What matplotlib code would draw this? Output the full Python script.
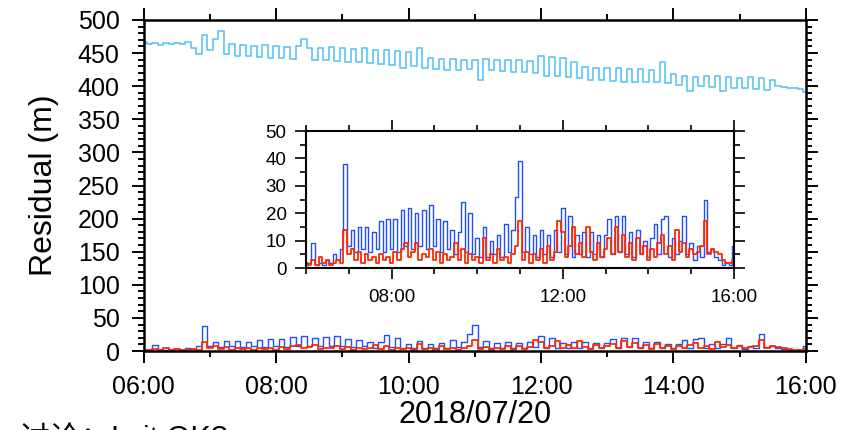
import numpy as np
import pandas as pd
import matplotlib
matplotlib.use('Agg')
from matplotlib import pyplot as plt
import matplotlib.dates as mdates
from matplotlib.ticker import MultipleLocator

plt.rcParams['font.family'] = ['Liberation Sans', 'Noto Sans CJK SC', 'DejaVu Sans']

# 5-minute samples, 2018/07/20 06:00 - 16:00
times = pd.date_range('2018-07-20 06:00', '2018-07-20 16:00', freq='5min')

# residual of the uncorrected solution (light blue, m)
res_raw = [467, 464, 466, 462, 465, 463, 466, 464, 467,
           458, 448, 478, 455, 472, 484,
           448, 463, 446, 462, 445, 461, 444, 462, 443, 460, 442, 459, 441, 460, 472, 458, 440, 458, 439, 459, 438,
           457, 437, 456, 436, 457, 435, 455, 434, 454, 432, 453, 428,
           451, 430, 458, 428, 442, 426, 441, 425, 441, 424, 440, 426,
           440, 410, 441, 424, 440, 423, 439, 422, 439, 421, 438, 420,
           445, 416, 444, 415, 443, 414, 437, 412, 429, 410, 428, 409,
           428, 408, 427, 407, 426, 406, 426, 407, 425, 406, 437, 405,
           418, 402, 416, 392, 414, 400, 416, 399, 415, 392, 414, 398,
           413, 397, 414, 396, 412, 395, 410, 400, 399, 398, 398, 396, 391]

# residual, blue series (m)
res_blue = [1, 2, 9, 1, 2, 1, 3, 2, 5, 3, 7, 38,
            8, 14, 6, 15, 7, 15, 6, 13, 7, 17, 6, 18,
            7, 18, 6, 21, 8, 22, 7, 20, 8, 21, 7, 23,
            8, 18, 6, 17, 7, 14, 5, 13, 24, 6, 20, 5,
            11, 4, 15, 4, 10, 5, 12, 4, 16, 6, 14, 26,
            39, 6, 15, 5, 12, 4, 14, 5, 12, 4, 14, 6,
            22, 5, 19, 4, 12, 5, 13, 4, 13, 5, 12, 4,
            12, 18, 5, 19, 6, 19, 5, 13, 4, 14, 5, 10,
            4, 11, 16, 5, 18, 19, 4, 11, 5, 10, 19, 5,
            9, 3, 8, 4, 25, 6, 7, 4, 3, 1, 2, 1, 8]

# residual, red series (m)
res_red = [2, 1, 3, 1, 4, 2, 3, 1, 2, 3, 2, 14,
           5, 7, 3, 6, 2, 5, 3, 4, 2, 5, 3, 4,
           2, 6, 3, 7, 9, 4, 6, 9, 3, 5, 4, 7,
           3, 6, 2, 5, 3, 4, 9, 3, 7, 2, 5, 3,
           4, 2, 11, 3, 5, 2, 7, 3, 4, 2, 5, 8,
           17, 3, 6, 2, 5, 3, 7, 2, 8, 3, 6, 17,
           13, 4, 8, 15, 5, 9, 4, 15, 6, 3, 9, 4,
           7, 11, 5, 15, 6, 12, 4, 9, 3, 11, 5, 8,
           3, 7, 4, 9, 12, 5, 8, 3, 14, 6, 9, 4,
           7, 5, 6, 8, 17, 5, 7, 6, 5, 3, 2, 2, 3]

c_sky = '#5cc3f7'
c_blue = '#1f4fff'
c_red = '#ff2a00'

fig = plt.figure(figsize=(8.56, 4.30), dpi=100)
ax = fig.add_axes([0.168, 0.1837, 0.7734, 0.7698])

ax.plot(times, res_raw, color=c_sky, lw=1.2, drawstyle='steps-mid')
ax.plot(times, res_blue, color=c_blue, lw=1.0, drawstyle='steps-mid')
ax.plot(times, res_red, color=c_red, lw=1.3, drawstyle='steps-mid')

ax.set_xlim(times[0], times[-1])
ax.set_ylim(0, 500)
ax.xaxis.set_major_locator(mdates.HourLocator(byhour=range(6, 17, 2)))
ax.xaxis.set_minor_locator(mdates.HourLocator())
ax.xaxis.set_major_formatter(mdates.DateFormatter('%H:%M'))
ax.yaxis.set_major_locator(MultipleLocator(50))
ax.yaxis.set_minor_locator(MultipleLocator(10))
ax.tick_params(which='both', direction='out', top=True, right=True,
               labelsize=18, width=1.4)
ax.tick_params(which='major', length=8.5)
ax.tick_params(which='minor', length=4.3)
ax.tick_params(axis='y', pad=9)
ax.tick_params(axis='x', pad=9)
for sp in ax.spines.values():
    sp.set_linewidth(1.8)
ax.set_ylabel('Residual (m)', fontsize=23, labelpad=13)
ax.set_xlabel('2018/07/20', fontsize=22, labelpad=0.5)

# zoomed inset, 0-50 m
ins = fig.add_axes([0.3575, 0.3767, 0.5, 0.3186])
ins.plot(times, res_blue, color=c_blue, lw=1.0, drawstyle='steps-mid')
ins.plot(times, res_red, color=c_red, lw=1.3, drawstyle='steps-mid')
ins.set_xlim(times[0], times[-1])
ins.set_ylim(0, 50)
ins.xaxis.set_major_locator(mdates.HourLocator(byhour=[8, 12, 16]))
ins.xaxis.set_minor_locator(mdates.HourLocator())
ins.xaxis.set_major_formatter(mdates.DateFormatter('%H:%M'))
ins.yaxis.set_major_locator(MultipleLocator(10))
ins.yaxis.set_minor_locator(MultipleLocator(5))
ins.tick_params(which='both', direction='out', top=True, right=True,
                labelsize=13.5, width=1.2)
ins.tick_params(which='major', length=8)
ins.tick_params(which='minor', length=4.5)
ins.tick_params(axis='y', pad=6)
ins.tick_params(axis='x', pad=7)
for sp in ins.spines.values():
    sp.set_linewidth(1.5)

# slide text below the chart, mostly cut off by the frame edge
fig.text(0.0, -0.058, '• 讨论：Is it OK?', fontsize=22, ha='left', va='bottom')

plt.savefig('out.png', dpi=100)
